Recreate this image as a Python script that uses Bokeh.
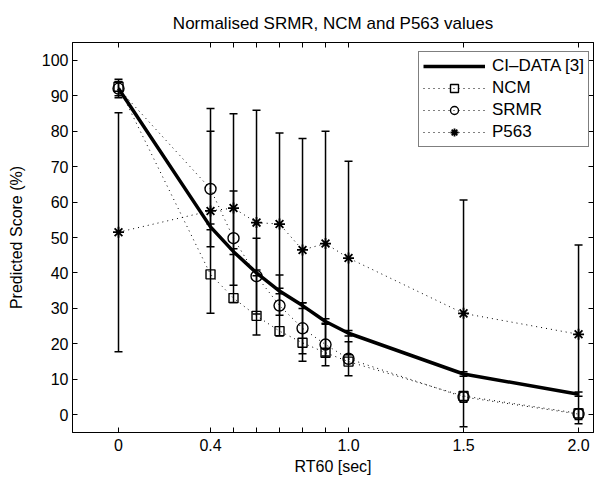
from bokeh.plotting import figure
from bokeh.models import (Range1d, LinearAxis, FixedTicker, Whisker, TeeHead,
                          ColumnDataSource, Legend, LegendItem, CustomLabelingPolicy)
from bokeh.embed import file_html
from bokeh.resources import INLINE

# ---------------- data ----------------
rt60 = [0.0, 0.4, 0.5, 0.6, 0.7, 0.8, 0.9, 1.0, 1.5, 2.0]
ci_data = [92.0, 53.0, 46.0, 40.0, 34.9, 30.8, 26.3, 23.0, 11.5, 5.8]
ci_err = [2.6, 0.8, 0.8, 0.8, 0.8, 0.8, 0.8, 0.8, 0.6, 0.6]
ncm = [92.5, 39.6, 32.9, 27.9, 23.6, 20.3, 17.5, 15.0, 5.3, 0.4]
srmr = [92.0, 63.7, 49.8, 39.1, 30.8, 24.4, 19.8, 15.8, 5.0, 0.2]
srmr_err = [2.0, 16.3, 13.3, 10.7, 8.6, 7.2, 6.0, 4.8, 1.5, 1.5]
p563 = [51.5, 57.5, 58.3, 54.2, 53.8, 46.5, 48.3, 44.2, 28.6, 22.7]
p563_err = [33.7, 28.9, 26.6, 31.7, 25.7, 31.4, 31.7, 27.3, 32.0, 25.2]

x_major_ticks = [0.0, 0.4, 1.0, 1.5, 2.0]
x_major_labels = ["0", "0.4", "1.0", "1.5", "2.0"]
x_minor_ticks = [0.5, 0.6, 0.7, 0.8, 0.9]
y_tick_values = [0, 10, 20, 30, 40, 50, 60, 70, 80, 90, 100]

title_text = "Normalised SRMR, NCM and P563 values"
x_label = "RT60 [sec]"
y_label = "Predicted Score (%)"
legend_labels = ["CI\u2013DATA [3]", "NCM", "SRMR", "P563"]

FONT = "Liberation Sans"

p = figure(width=600, height=479, output_backend="svg", toolbar_location=None,
           x_range=Range1d(-0.2, 2.065), y_range=Range1d(-5, 105),
           min_border_left=72, min_border_right=7, min_border_top=42,
           min_border_bottom=47, title=title_text,
           x_axis_label=x_label, y_axis_label=y_label)
p.background_fill_color = "white"
p.border_fill_color = "white"
p.outline_line_color = "black"
p.outline_line_width = 1
p.xgrid.visible = False
p.ygrid.visible = False

p.title.align = "center"
p.title.text_font = FONT
p.title.text_font_size = "17px"
p.title.text_font_style = "normal"
p.title.text_color = "black"
p.title.standoff = 12

for ax in p.xaxis + p.yaxis:
    ax.axis_line_color = "black"
    ax.axis_line_width = 1
    ax.major_tick_in = 5
    ax.major_tick_out = 0
    ax.minor_tick_in = 5
    ax.minor_tick_out = 0
    ax.major_tick_line_color = "black"
    ax.minor_tick_line_color = "black"
    ax.major_label_text_font = FONT
    ax.major_label_text_font_size = "16px"
    ax.major_label_text_color = "black"
    ax.axis_label_text_font = FONT
    ax.axis_label_text_font_size = "16px"
    ax.axis_label_text_font_style = "normal"
    ax.axis_label_text_color = "black"

p.xaxis.ticker = FixedTicker(ticks=x_major_ticks, minor_ticks=x_minor_ticks)
p.xaxis.major_label_overrides = {v: s for v, s in zip(x_major_ticks, x_major_labels)}
p.xaxis.major_label_standoff = 6
p.xaxis.axis_label_standoff = 4
p.yaxis.ticker = FixedTicker(ticks=y_tick_values)
p.yaxis.major_label_standoff = 4
p.yaxis.axis_label_standoff = 14

top_axis = LinearAxis(ticker=FixedTicker(ticks=x_major_ticks, minor_ticks=x_minor_ticks),
                      major_label_policy=CustomLabelingPolicy(code="return new Set()"),
                      major_label_text_font_size="1px", major_label_standoff=0,
                      major_tick_in=5, major_tick_out=0, minor_tick_in=5,
                      minor_tick_out=0, axis_line_color="black",
                      minor_tick_line_color="black")
p.add_layout(top_axis, "above")
right_axis = LinearAxis(ticker=FixedTicker(ticks=y_tick_values),
                        major_label_policy=CustomLabelingPolicy(code="return new Set()"),
                        major_label_text_font_size="1px", major_label_standoff=0,
                        major_tick_in=5, major_tick_out=0, minor_tick_in=0,
                        minor_tick_out=0, axis_line_color="black")
p.add_layout(right_axis, "right")

# ---------------- series ----------------
src = ColumnDataSource(dict(
    x=rt60, ci=ci_data, ncm=ncm, srmr=srmr, p563=p563,
    ci_lo=[v - e for v, e in zip(ci_data, ci_err)],
    ci_hi=[v + e for v, e in zip(ci_data, ci_err)],
    srmr_lo=[v - e for v, e in zip(srmr, srmr_err)],
    srmr_hi=[v + e for v, e in zip(srmr, srmr_err)],
    p_lo=[v - e for v, e in zip(p563, p563_err)],
    p_hi=[v + e for v, e in zip(p563, p563_err)],
))

DOT = "1 4"
ncm_line = p.line("x", "ncm", source=src, line_color="black", line_width=1, line_dash=DOT)
srmr_line = p.line("x", "srmr", source=src, line_color="black", line_width=1, line_dash=DOT)
p_line = p.line("x", "p563", source=src, line_color="black", line_width=1, line_dash=DOT)

for lo, hi in (("p_lo", "p_hi"), ("srmr_lo", "srmr_hi"), ("ci_lo", "ci_hi")):
    w = Whisker(source=src, base="x", lower=lo, upper=hi, dimension="height",
                line_color="black", line_width=1.5,
                upper_head=TeeHead(size=8, line_color="black", line_width=1.5),
                lower_head=TeeHead(size=8, line_color="black", line_width=1.5))
    p.add_layout(w)

ncm_pts = p.scatter("x", "ncm", source=src, marker="square", size=9,
                    fill_color=None, line_color="black", line_width=1.4)
srmr_pts = p.scatter("x", "srmr", source=src, marker="circle", size=11,
                     fill_color=None, line_color="black", line_width=1.4)
p_pts = p.scatter("x", "p563", source=src, marker="asterisk", size=11,
                  line_color="black", line_width=1.8)
ci_line = p.line("x", "ci", source=src, line_color="black", line_width=3.5)

legend = Legend(items=[
    LegendItem(label=legend_labels[0], renderers=[ci_line]),
    LegendItem(label=legend_labels[1], renderers=[ncm_line, ncm_pts]),
    LegendItem(label=legend_labels[2], renderers=[srmr_line, srmr_pts]),
    LegendItem(label=legend_labels[3], renderers=[p_line, p_pts]),
], location=(346, 285))
legend.label_text_font = FONT
legend.label_text_font_size = "17px"
legend.label_text_color = "black"
legend.glyph_width = 62
legend.glyph_height = 20
legend.label_height = 20
legend.label_standoff = 7
legend.spacing = 2
legend.padding = 4
legend.margin = 0
legend.border_line_color = "black"
legend.border_line_width = 1
legend.background_fill_color = "white"
legend.background_fill_alpha = 1
p.add_layout(legend)

open("out.html", "w").write(file_html(p, INLINE))
